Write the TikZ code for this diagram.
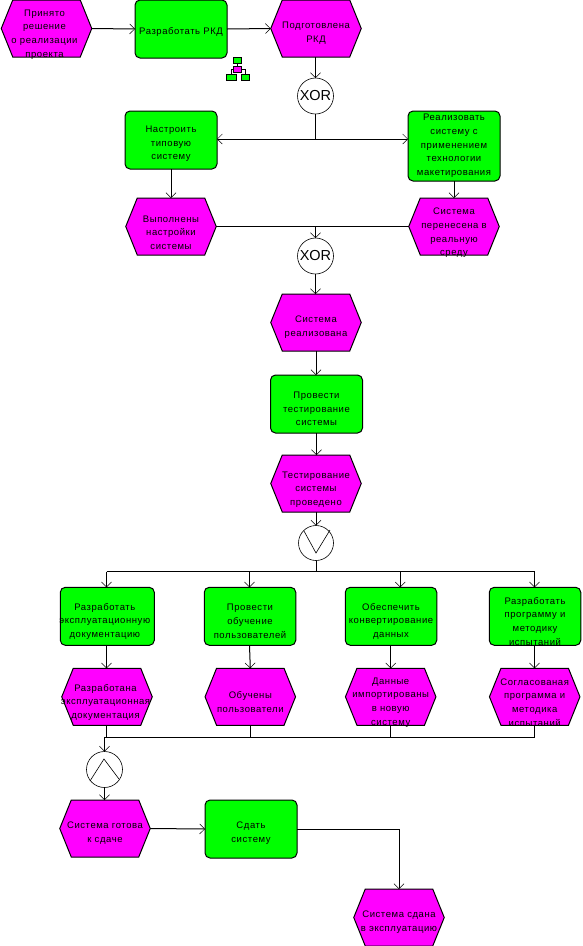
\documentclass[tikz,border=0pt]{standalone}
\usepackage{fontspec}
\setmainfont[LetterSpace=6]{Liberation Sans}
\newfontfamily\gatefont{Liberation Sans}
\usetikzlibrary{arrows.meta, positioning, shapes.symbols, calc}
\definecolor{cgreen}{HTML}{00FF00}
\definecolor{cmagenta}{HTML}{FF00FF}
\tikzset{
  every label/.style={font=\fontsize{9.5}{13.7}\selectfont, align=center, inner sep=0pt},
  func/.style={draw, fill=cgreen, rounded corners=5pt, minimum width=92, minimum height=58, inner sep=0pt, outer sep=0pt, line width=1pt},
  event/.style={draw, fill=cmagenta, signal, signal to=east and west, signal from=nowhere, signal pointer angle=136, minimum width=90.5, minimum height=57, inner sep=0pt, outer sep=0pt, line width=1pt},
  gate/.style={draw, fill=white, circle, minimum size=36, inner sep=0pt, outer sep=0pt, line width=.6pt},
  xorgate/.style={gate, font=\gatefont\fontsize{14.5}{15}\selectfont},
  arrow/.style={-{Straight Barb[length=5pt, width=10pt, line width=.5pt]}, line width=1pt},
  link/.style={line width=1pt},
  tiny/.style={draw, minimum width=#1, minimum height=6, inner sep=0pt, outer sep=0pt, line width=.8pt},
}
\begin{document}
\begin{tikzpicture}[x=1pt, y=-1pt]
  \useasboundingbox (0,0) rectangle (583,946);
  % top row
  \node[event, label={[yshift=-6pt, xshift=-2pt]center:Принято\\решение\\о реализации\\проекта}] (start) at (46.5,28.5) {};
  \node[func, label={[yshift=-2.5pt]center:Разработать РКД}] (rkd) at (181,29) {};
  \node[event, label={[yshift=-4.5pt]center:Подготовлена\\РКД}] (rkdok) at (316,28.5) {};
  \draw[arrow] (start.east) -- (rkd.west);
  \draw[arrow] (rkd.east) -- (rkdok.west);
  % small hierarchy mark
  \node[tiny=8, fill=cgreen] (marka) at (237.5,60) {};
  \node[tiny=8, fill=cmagenta] (markb) at (237.5,69) {};
  \node[tiny=10, fill=cgreen] (markc) at (231.5,77) {};
  \node[tiny=8, fill=cgreen] (markd) at (245,77) {};
  \draw[line width=.8pt] (marka) -- (markb);
  \draw[line width=.8pt] (markb.east) -| (markd.north);
  \draw[line width=.8pt] (markb.west) -| (markc.north);
  % first branch
  \node[xorgate] (xora) at (315.5,96) {XOR};
  \node[func, label={[yshift=-4pt]center:Настроить\\типовую\\систему}] (setup) at (171,140) {};
  \node[func, minimum height=70, label={[yshift=0pt]center:Реализовать\\систему с\\применением\\технологии\\макетирования}] (proto) at (454,146) {};
  \node[event, label={[yshift=-6pt]center:Выполнены\\настройки\\системы}] (setupok) at (171,226.5) {};
  \node[event, label={[yshift=-6.5pt]center:Система\\перенесена в\\реальную\\среду}] (protook) at (454,226.5) {};
  \coordinate (splita) at (315.5,139);
  \draw[arrow] (rkdok.south -| xora) -- (xora.north);
  \draw[link] (xora.south) -- (splita);
  \draw[arrow] (splita) -- (splita -| setup.east);
  \draw[arrow] (splita) -- (splita -| proto.west);
  \draw[arrow] (setup.south) -- (setupok.north);
  \draw[arrow] (proto.south) -- (protook.north);
  \node[xorgate] (xorb) at (315.5,256) {XOR};
  \draw[link] (setupok.east) -- (protook.west);
  \draw[arrow] (xorb.north |- setupok.east) -- (xorb.north);
  % middle column
  \node[event, label={[yshift=-5pt]center:Система\\реализована}] (done) at (316,322.5) {};
  \node[func, label={[yshift=-5pt]center:Провести\\тестирование\\системы}] (test) at (316.5,404) {};
  \node[event, label={[yshift=-6pt]center:Тестирование\\системы\\проведено}] (testok) at (316,483.5) {};
  \draw[arrow] (xorb.south) -- (xorb.south |- done.north);
  \draw[arrow] (done.south) -- (done.south |- test.north);
  \draw[arrow] (test.south) -- (test.south |- testok.north);
  \node[gate, minimum size=35] (orgate) at (316,543) {};
  \draw[line width=.6pt] (304,531) -- (316,553) -- (330,530);
  \draw[arrow] (testok.south) -- (orgate.north);
  % four parallel functions
  \coordinate (splitb) at (316,571.5);
  \node[func, minimum width=94, label={[yshift=-5pt, xshift=-2.5pt]center:Разработать\\эксплуатационную\\документацию}] (docs) at (107.3,616.3) {};
  \node[func, minimum width=91.5, label={[yshift=-5pt]center:Провести\\обучение\\пользователей}] (train) at (250,616.3) {};
  \node[func, minimum width=91.5, label={[yshift=-5pt]center:Обеспечить\\конвертирование\\данных}] (conv) at (391,616.3) {};
  \node[func, minimum width=91.5, label={[yshift=-5pt]center:Разработать\\программу и\\методику\\испытаний}] (prog) at (535,616.3) {};
  \node[event, label={[yshift=-5.5pt, xshift=-1.5pt]center:Разработана\\эксплуатационная\\документация}] (docsok) at (107,696.8) {};
  \node[event, label={[yshift=-5pt]center:Обучены\\пользователи}] (trainok) at (250.3,696.8) {};
  \node[event, label={[yshift=-5.5pt]center:Данные\\импортированы\\в новую\\систему}] (convok) at (390.7,696.8) {};
  \node[event, label={[yshift=-5.5pt]center:Согласованая\\программа и\\методика\\испытаний}] (progok) at (534.7,696.8) {};
  \draw[link] (orgate.south) -- (splitb);
  \coordinate (dropa) at (106.5,571.5);
  \coordinate (dropb) at (249.5,571.5);
  \coordinate (dropc) at (400.3,571.5);
  \coordinate (dropd) at (534.5,571.5);
  \draw[link] (dropa) -- (dropd);
  \foreach \d/\f in {dropa/docs, dropb/train, dropc/conv, dropd/prog} \draw[arrow] (\d) -- (\d |- \f.north);
  \draw[arrow] (dropa |- docs.south) -- (dropa |- docsok.north);
  \draw[arrow] (dropb |- train.south) -- (trainok.north);
  \draw[arrow] (conv.south -| convok) -- (convok.north);
  \draw[arrow] (dropd |- prog.south) -- (dropd |- progok.north);
  % join
  \node[gate] (andgate) at (104.5,769.5) {};
  \draw[line width=.6pt] (90,781) -- (104,759) -- (119,779);
  \coordinate (joina) at (104.5,737.3);
  \draw[link] (joina) -- (progok.south |- joina);
  \draw[link] (dropa |- docsok.south) -- (dropa |- joina);
  \foreach \e in {trainok, convok, progok} \draw[link] (\e.south) -- (\e.south |- joina);
  \draw[arrow] (joina) -- (andgate.north);
  % handover
  \node[event, label={[yshift=-4.5pt]center:Система готова\\к сдаче}] (ready) at (105,828.5) {};
  \node[func, label={[yshift=-4pt]center:Сдать\\систему}] (hand) at (251,829) {};
  \node[event, label={[yshift=-4.5pt]center:Система сдана\\в эксплуатацию}] (final) at (399,917.5) {};
  \draw[arrow] (andgate.south) -- (andgate.south |- ready.north);
  \draw[arrow] (ready.east) -- (hand.west);
  \draw[arrow] (hand.east) -| (final.north);
\end{tikzpicture}
\end{document}
